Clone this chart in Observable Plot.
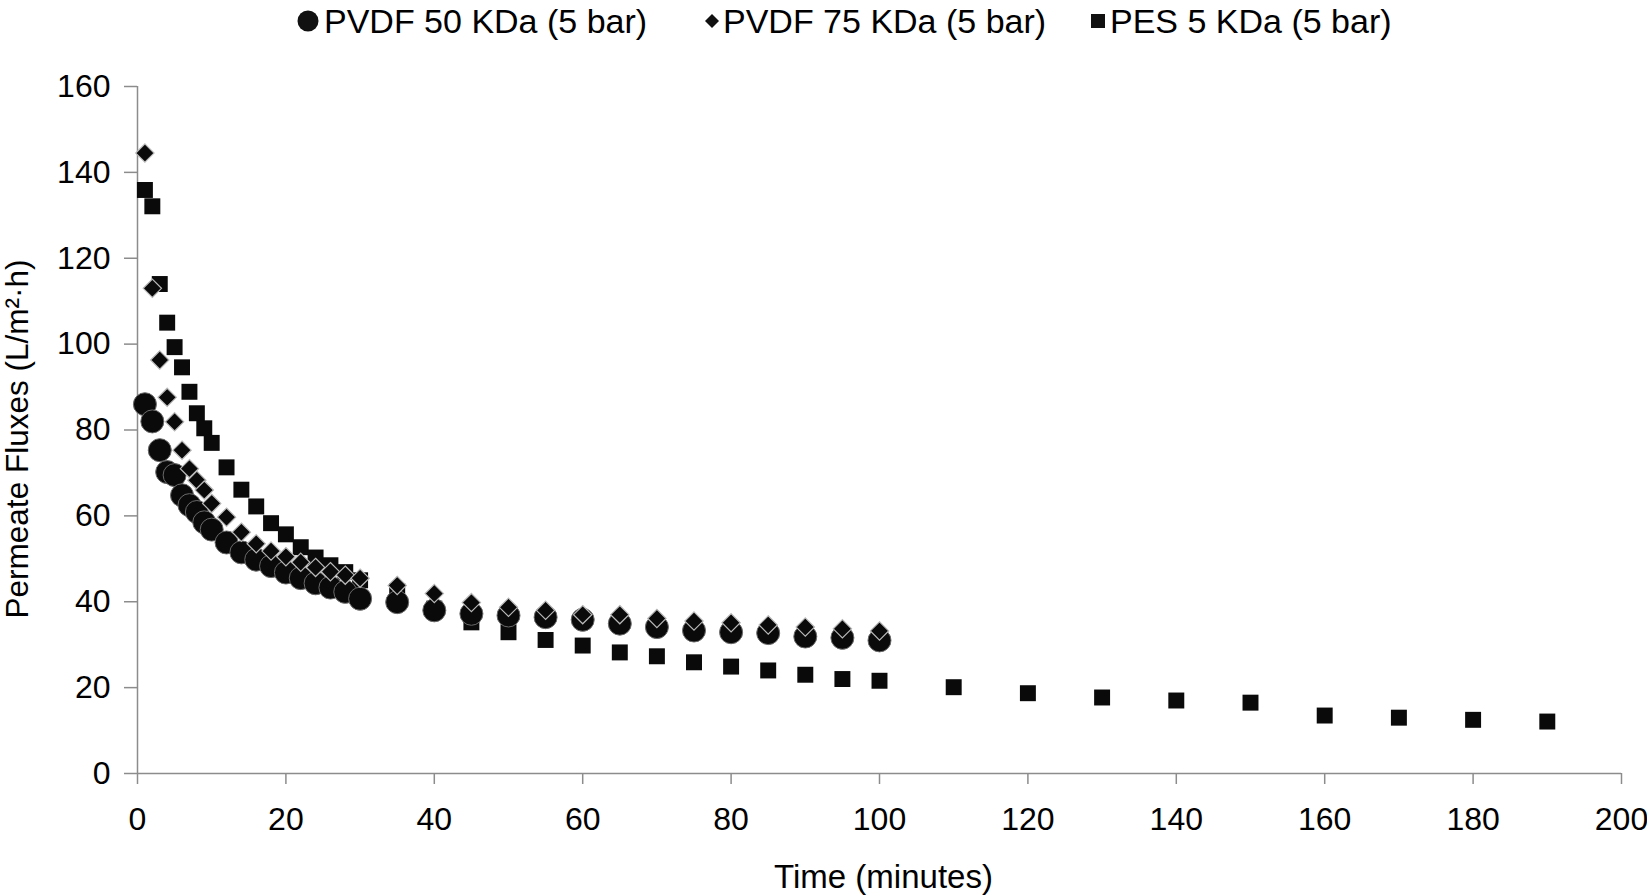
<!DOCTYPE html>
<html>
<head>
<meta charset="utf-8">
<script src="https://cdn.jsdelivr.net/npm/d3@7"></script>
<script src="https://cdn.jsdelivr.net/npm/@observablehq/plot@0.6"></script>
<style>
  html, body { margin: 0; padding: 0; background: white; }
  body { width: 1647px; height: 896px; overflow: hidden; font-family: "Liberation Sans", Arial, sans-serif; }
  #legend { position: relative; height: 40px; width: 1647px; font-size: 34px; color: black; }
  .item { position: absolute; top: 1px; height: 40px; display: flex; align-items: center; white-space: nowrap; }
</style>
</head>
<body>
<div id="legend"></div>
<div id="chart"></div>
<script>
// ---- data ----
const seriesNames = ["PVDF 50 KDa (5 bar)", "PVDF 75 KDa (5 bar)", "PES 5 KDa (5 bar)"];

const pvdf50Time = [1,2,3,4,5,6,7,8,9,10,12,14,16,18,20,22,24,26,28,30,35,40,45,50,55,60,65,70,75,80,85,90,95,100];
const pvdf50Flux = [86,82,75.3,70.2,69.5,64.8,62.5,60.9,58.5,56.8,53.8,51.5,49.8,48.3,46.8,45.5,44.3,43.3,42.3,40.7,39.9,38.0,37.2,36.8,36.4,35.8,34.9,34.1,33.3,32.9,32.7,31.9,31.6,31.0];

const pvdf75Time = [1,2,3,4,5,6,7,8,9,10,12,14,16,18,20,22,24,26,28,30,35,40,45,50,55,60,65,70,75,80,85,90,95,100];
const pvdf75Flux = [144.5,113,96.3,87.6,81.9,75.3,71,68.3,66,62.9,59.7,56.2,53.5,51.8,50.5,49.2,48,47,46.2,45.5,43.8,41.9,39.8,38.7,38.0,37.0,37.0,36.1,35.5,35.1,34.6,34.1,33.7,33.2];

const pesTime = [1,2,3,4,5,6,7,8,9,10,12,14,16,18,20,22,24,26,28,30,35,40,45,50,55,60,65,70,75,80,85,90,95,100,110,120,130,140,150,160,170,180,190];
const pesFlux = [135.9,132.1,114,105,99.3,94.6,88.9,83.9,80.4,77,71.3,66.1,62.2,58.3,55.7,52.7,50.3,48.5,46.9,45,42.5,38.4,35.2,32.9,31.1,29.8,28.2,27.3,25.9,24.9,24,23,22,21.6,20.1,18.7,17.7,17,16.5,13.5,13,12.5,12.1];

const xTicks = [0,20,40,60,80,100,120,140,160,180,200];
const yTicks = [0,20,40,60,80,100,120,140,160];
const xLabel = "Time (minutes)";
const yLabel = "Permeate Fluxes (L/m²·h)";

// ---- tables ----
const pvdf50 = pvdf50Time.map((t, i) => ({time: t, flux: pvdf50Flux[i]}));
const pvdf75 = pvdf75Time.map((t, i) => ({time: t, flux: pvdf75Flux[i]}));
const pes = pesTime.map((t, i) => ({time: t, flux: pesFlux[i]}));

// rotated-square diamond symbol
const diamondSq = {
  draw(ctx, size) {
    const r = Math.sqrt(size / 2);
    ctx.moveTo(0, -r); ctx.lineTo(r, 0); ctx.lineTo(0, r); ctx.lineTo(-r, 0); ctx.closePath();
  }
};

// ---- legend ----
const legend = document.getElementById("legend");
const legendItems = [
  {left: 297, gap: 5, svg: '<svg width="22" height="22"><circle cx="11" cy="11" r="10.5" fill="#111"/></svg>'},
  {left: 704, gap: 3, svg: '<svg width="16" height="16"><path d="M8 1 L15 8 L8 15 L1 8 Z" fill="#111"/></svg>'},
  {left: 1090, gap: 4, svg: '<svg width="16" height="16"><rect x="1" y="1" width="14" height="14" fill="#111"/></svg>'}
];
legendItems.forEach((it, i) => {
  const d = document.createElement("div");
  d.className = "item";
  d.style.left = it.left + "px";
  d.innerHTML = it.svg + '<span style="margin-left:' + it.gap + 'px">' + seriesNames[i] + "</span>";
  legend.appendChild(d);
});

// ---- chart ----
const axisGray = "#8c8c8c";
const chart = Plot.plot({
  width: 1647,
  height: 856,
  marginLeft: 137,
  marginRight: 26,
  marginTop: 46,
  marginBottom: 123,
  style: {fontFamily: "Liberation Sans, Arial, sans-serif", fontSize: "32px", background: "white", color: "black", overflow: "visible"},
  x: {domain: [0, 200]},
  y: {domain: [0, 160]},
  marks: [
    Plot.axisX({ticks: xTicks, tickSize: 11, tickPadding: 23, stroke: axisGray, strokeWidth: 1.5, fill: "black", fontSize: 32, label: null}),
    Plot.axisY({ticks: yTicks, tickSize: 13, tickPadding: 14, stroke: axisGray, strokeWidth: 1.5, fill: "black", fontSize: 32, label: null}),
    Plot.ruleX([0], {stroke: axisGray, strokeWidth: 1.5}),
    Plot.ruleY([0], {stroke: axisGray, strokeWidth: 1.5}),
    Plot.dot(pes, {x: "time", y: "flux", symbol: "square", r: 9, fill: "#0a0a0a", stroke: "none"}),
    Plot.dot(pvdf50, {x: "time", y: "flux", symbol: "circle", r: 11.5, fill: "#0a0a0a", stroke: "#6a6a6a", strokeWidth: 1}),
    Plot.dot(pvdf75, {x: "time", y: "flux", symbol: diamondSq, r: 7.3, fill: "#0a0a0a", stroke: "#b8b8b8", strokeWidth: 1.2}),
    Plot.text([xLabel], {frameAnchor: "bottom", textAnchor: "middle", dx: 4, dy: 114, fontSize: 33, fill: "black"}),
    Plot.text([yLabel], {frameAnchor: "left", textAnchor: "middle", dx: -120, dy: 9, rotate: -90, fontSize: 31.5, fill: "black"})
  ]
});
document.getElementById("chart").appendChild(chart);
</script>
</body>
</html>
